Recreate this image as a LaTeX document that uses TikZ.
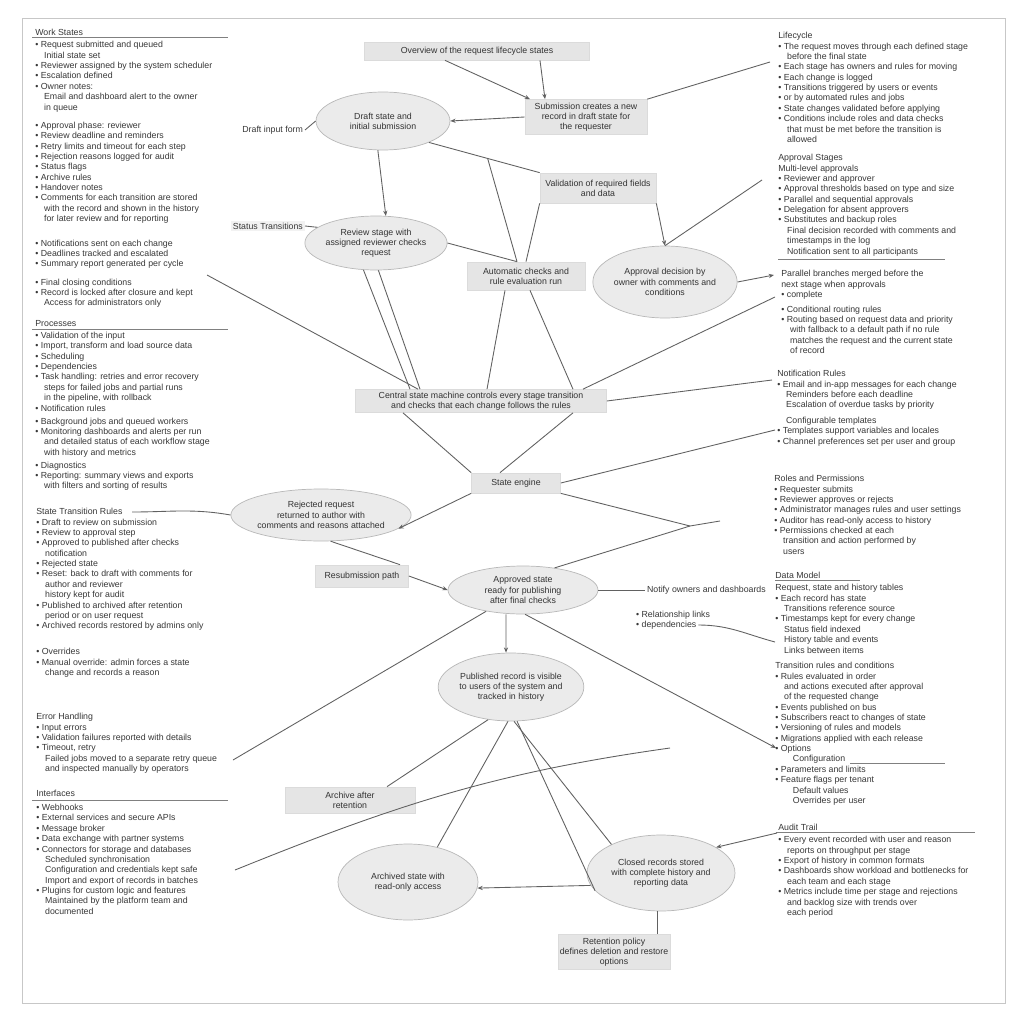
\documentclass[tikz,border=0pt]{standalone}
\usepackage{fontspec}
\setmainfont{Liberation Sans}
\usetikzlibrary{arrows.meta, shapes.geometric}
\newcommand{\listfont}{\fontsize{5}{5.9}\selectfont}
\newcommand{\bul}{\textbullet\ }
\newcommand{\cont}{\hspace*{5pt}}
\tikzset{%
	state bubble/.style={
		ellipse,
		draw=black!28,
		fill=black!8,
		inner sep=0pt,
		align=center,
		font=\fontsize{5}{5.8}\selectfont,
		text=black!80
	},
	state box/.style={
		rectangle,
		draw=black!14,
		fill=black!10,
		inner sep=1pt,
		align=center,
		font=\fontsize{5}{5.8}\selectfont,
		text=black!80
	},
	note block/.style={
		anchor=north west,
		inner sep=0pt,
		align=left,
		font=\listfont,
		text=black!78
	},
	side label/.style={inner sep=1pt, font=\listfont, text=black!78},
	link/.style={draw=black!62, line width=0.5pt},
	link arrow/.style={link, -{Stealth[length=3pt, width=2.4pt]}},
	heading rule/.style={draw=black!50, line width=0.4pt},
}

\begin{document}
\begin{tikzpicture}[x=0.02cm, y=-0.02cm]
	\useasboundingbox (0,0) rectangle (1024,1024);
	\fill[white] (0,0) rectangle (1024,1024);
	\draw[black!22, line width=0.4pt] (22,18) rectangle (1005,1003);

	% left notes
	\node[note block] (workstates) at (35,29) {Work States\\[1pt]
		\bul Request submitted and queued\\
		\cont Initial state set\\
		\bul Reviewer assigned by the system scheduler\\
		\bul Escalation defined\\
		\bul Owner notes:\\
		\cont Email and dashboard alert to the owner\\
		\cont in queue\\[4.5pt]
		\bul Approval phase: reviewer\\
		\bul Review deadline and reminders\\
		\bul Retry limits and timeout for each step\\
		\bul Rejection reasons logged for audit\\
		\bul Status flags\\
		\bul Archive rules\\
		\bul Handover notes\\
		\bul Comments for each transition are stored\\
		\cont with the record and shown in the history\\
		\cont for later review and for reporting\\[8pt]
		\bul Notifications sent on each change\\
		\bul Deadlines tracked and escalated\\
		\bul Summary report generated per cycle\\[4.5pt]
		\bul Final closing conditions\\
		\bul Record is locked after closure and kept\\
		\cont Access for administrators only};
	\draw[heading rule] (32,37) -- (228,37);

	\node[note block] (processes) at (35,320) {Processes\\[1pt]
		\bul Validation of the input\\
		\bul Import, transform and load source data\\
		\bul Scheduling\\
		\bul Dependencies\\
		\bul Task handling: retries and error recovery\\
		\cont steps for failed jobs and partial runs\\
		\cont in the pipeline, with rollback\\
		\bul Notification rules\\[1.5pt]
		\bul Background jobs and queued workers\\
		\bul Monitoring dashboards and alerts per run\\
		\cont and detailed status of each workflow stage\\
		\cont with history and metrics\\[1.5pt]
		\bul Diagnostics\\
		\bul Reporting: summary views and exports\\
		\cont with filters and sorting of results};
	\draw[heading rule] (32,329) -- (228,329);

	\node[note block] (rules) at (36,508) {State Transition Rules\\
		\bul Draft to review on submission\\
		\bul Review to approval step\\
		\bul Approved to published after checks\\
		\cont notification\\
		\bul Rejected state\\
		\bul Reset: back to draft with comments for\\
		\cont author and reviewer\\
		\cont history kept for audit\\
		\bul Published to archived after retention\\
		\cont period or on user request\\
		\bul Archived records restored by admins only\\[9pt]
		\bul Overrides\\
		\bul Manual override: admin forces a state\\
		\cont change and records a reason};

	\node[note block] (errors) at (36,713) {Error Handling\\
		\bul Input errors\\
		\bul Validation failures reported with details\\
		\bul Timeout, retry\\
		\cont Failed jobs moved to a separate retry queue\\
		\cont and inspected manually by operators};

	\node[note block] (interfaces) at (36,790) {Interfaces\\[2pt]
		\bul Webhooks\\
		\bul External services and secure APIs\\
		\bul Message broker\\
		\bul Data exchange with partner systems\\
		\bul Connectors for storage and databases\\
		\cont Scheduled synchronisation\\
		\cont Configuration and credentials kept safe\\
		\cont Import and export of records in batches\\
		\bul Plugins for custom logic and features\\
		\cont Maintained by the platform team and\\
		\cont documented};
	\draw[heading rule] (32,800) -- (228,800);

	% right notes
	\node[note block] (lifecycle) at (778,32) {Lifecycle\\
		\bul The request moves through each defined stage\\
		\cont before the final state\\
		\bul Each stage has owners and rules for moving\\
		\bul Each change is logged\\
		\bul Transitions triggered by users or events\\
		\bul or by automated rules and jobs\\
		\bul State changes validated before applying\\
		\bul Conditions include roles and data checks\\
		\cont that must be met before the transition is\\
		\cont allowed};

	\node[note block] (stages) at (778,154) {Approval Stages\\
		Multi-level approvals\\
		\bul Reviewer and approver\\
		\bul Approval thresholds based on type and size\\
		\bul Parallel and sequential approvals\\
		\bul Delegation for absent approvers\\
		\bul Substitutes and backup roles\\
		\cont Final decision recorded with comments and\\
		\cont timestamps in the log\\
		\cont Notification sent to all participants};
	\draw[heading rule] (778,259) -- (945,259);

	\node[note block] (branches) at (781,270) {Parallel branches merged before the\\
		next stage when approvals\\
		\bul complete\\[2.5pt]
		\bul Conditional routing rules\\
		\bul Routing based on request data and priority\\
		\cont with fallback to a default path if no rule\\
		\cont matches the request and the current state\\
		\cont of record};

	\node[note block] (notices) at (777,370) {Notification Rules\\
		\bul Email and in-app messages for each change\\
		\cont Reminders before each deadline\\
		\cont Escalation of overdue tasks by priority\\[3pt]
		\cont Configurable templates\\
		\bul Templates support variables and locales\\
		\bul Channel preferences set per user and group};

	\node[note block] (roles) at (774,475) {Roles and Permissions\\
		\bul Requester submits\\
		\bul Reviewer approves or rejects\\
		\bul Administrator manages rules and user settings\\
		\bul Auditor has read-only access to history\\
		\bul Permissions checked at each\\
		\cont transition and action performed by\\
		\cont users};

	\node[note block] (datamodel) at (775,572) {Data Model\\[1pt]
		Request, state and history tables\\
		\bul Each record has state\\
		\cont Transitions reference source\\
		\bul Timestamps kept for every change\\
		\cont Status field indexed\\
		\cont History table and events\\
		\cont Links between items\\[3pt]
		Transition rules and conditions\\
		\bul Rules evaluated in order\\
		\cont and actions executed after approval\\
		\cont of the requested change\\
		\bul Events published on bus\\
		\bul Subscribers react to changes of state\\
		\bul Versioning of rules and models\\
		\bul Migrations applied with each release\\
		\bul Options\\
		\cont\cont Configuration\\
		\bul Parameters and limits\\
		\bul Feature flags per tenant\\
		\cont\cont Default values\\
		\cont\cont Overrides per user};
	\draw[heading rule] (775,580) -- (860,580);
	\draw[heading rule] (850,763) -- (945,763);

	\node[note block] (audit) at (778,824) {Audit Trail\\[1pt]
		\bul Every event recorded with user and reason\\
		\cont reports on throughput per stage\\
		\bul Export of history in common formats\\
		\bul Dashboards show workload and bottlenecks for\\
		\cont each team and each stage\\
		\bul Metrics include time per stage and rejections\\
		\cont and backlog size with trends over\\
		\cont each period};
	\draw[heading rule] (776,832) -- (975,832);

	% centre boxes
	\node[state box, minimum width=4.5cm, minimum height=0.36cm] (overview) at (477,51) {Overview of the request lifecycle states};
	\node[state box, minimum width=2.44cm, minimum height=0.7cm] (submit) at (586,117) {Submission creates a new\\ record in draft state for\\ the requester};
	\node[state box, minimum width=2.32cm, minimum height=0.6cm] (validate) at (598,188) {Validation of required fields\\ and data};
	\node[state box, minimum width=2.36cm, minimum height=0.56cm] (checks) at (526,276) {Automatic checks and\\ rule evaluation run};
	\node[state box, minimum width=5.02cm, minimum height=0.46cm] (machine) at (481,401) {Central state machine controls every stage transition\\ and checks that each change follows the rules};
	\node[state box, minimum width=1.78cm, minimum height=0.4cm] (engine) at (516,483) {State engine};
	\node[state box, minimum width=1.86cm, minimum height=0.44cm] (resubmit) at (362,576) {Resubmission path};
	\node[state box, minimum width=2.6cm, minimum height=0.52cm] (archivebox) at (350,800) {Archive after\\ retention};
	\node[state box, minimum width=2.14cm, minimum height=0.7cm] (retention) at (614,952) {Retention policy\\ defines deletion and restore\\ options};

	% centre bubbles
	\node[state bubble, minimum width=2.68cm, minimum height=1.16cm] (draft) at (383,121) {Draft state and\\ initial submission};
	\node[state bubble, minimum width=2.48cm, minimum height=1.08cm] (review) at (376,243) {Review stage with\\ assigned reviewer checks\\ request};
	\node[state bubble, minimum width=2.8cm, minimum height=1.44cm] (decision) at (665,282) {Approval decision by\\ owner with comments and\\ conditions};
	\node[state bubble, minimum width=2.68cm, minimum height=1.04cm] (rejected) at (321,515) {Rejected request\\ returned to author with\\ comments and reasons attached};
	\node[state bubble, minimum width=3.0cm, minimum height=0.96cm] (approved) at (523,590) {Approved state\\ ready for publishing\\ after final checks};
	\node[state bubble, minimum width=2.72cm, minimum height=1.36cm] (published) at (511,687) {Published record is visible\\ to users of the system and\\ tracked in history};
	\node[state bubble, minimum width=2.8cm, minimum height=1.52cm] (archived) at (408,882) {Archived state with\\ read-only access};
	\node[state bubble, minimum width=2.96cm, minimum height=1.52cm] (closed) at (661,873) {Closed records stored\\ with complete history and\\ reporting data};

	% side labels
	\node[side label, anchor=east] (draftlbl) at (305,130) {Draft input form};
	\node[side label, anchor=east, fill=black!5] (statuslbl) at (305,226) {Status Transitions};
	\node[side label, anchor=west] (notifylbl) at (645,590) {Notify owners and dashboards};
	\node[side label, anchor=west] (rellbl) at (634,615) {\bul Relationship links};
	\node[side label, anchor=west] (deplbl) at (634,625) {\bul dependencies};

	% free ends
	\coordinate (r1a) at (770,62);
	\coordinate (r2a) at (762,180);
	\coordinate (r3a) at (774,275);
	\coordinate (r3b) at (775,297);
	\coordinate (l1a) at (207,275);
	\coordinate (r4a) at (772,380);
	\coordinate (r4b) at (775,430);
	\coordinate (j2) at (690,526);
	\coordinate (j2end) at (720,521);
	\coordinate (l3a) at (132,512);
	\coordinate (r7a) at (776,748);
	\coordinate (l4a) at (233,760);
	\coordinate (r7b) at (775,642);
	\coordinate (l5a) at (235,870);
	\coordinate (curveend) at (670,748);
	\coordinate (r8a) at (777,833);

	% connectors
	\draw[link arrow] ([xshift=-0.64cm]overview.south) -- ([xshift=-1.12cm]submit.north);
	\draw[link arrow] ([xshift=1.26cm]overview.south) -- ([xshift=-0.82cm]submit.north);
	\draw[link] (submit.north east) -- (r1a);
	\draw[link arrow] (submit.west) -- (draft.east);
	\draw[link] (draft.-25) -- coordinate[pos=0.53] (j1) (validate.north west);
	\draw[link] (j1) -- ([xshift=-0.18cm]checks.north);
	\draw[link] (validate.south west) -- (checks.north);
	\draw[link arrow] (draft.260) -- (review.70);
	\draw[link arrow] (validate.south east) -- (decision.north);
	\draw[link] (decision.north) -- (r2a);
	\draw[link arrow] (decision.east) -- (r3a);
	\draw[link] (r3b) -- ([xshift=2.04cm]machine.north);
	\draw[link] (review.east) -- ([xshift=-0.18cm]checks.north);
	\draw[link] (statuslbl.east) -- (review.165);
	\draw[link] (draftlbl.east) -- (draft.west);
	\draw[link] (review.-115) -- ([xshift=-1.42cm]machine.north);
	\draw[link] (review.-85) -- ([xshift=-1.22cm]machine.north);
	\draw[link] (l1a) -- ([xshift=-1.26cm]machine.north);
	\draw[link] ([xshift=-0.42cm]checks.south) -- ([xshift=0.12cm]machine.north);
	\draw[link] ([xshift=0.08cm]checks.south) -- ([xshift=1.84cm]machine.north);
	\draw[link] (machine.east) -- (r4a);
	\draw[link] ([xshift=-1.56cm]machine.south) -- (engine.north west);
	\draw[link] ([xshift=1.84cm]machine.south) -- ([xshift=-0.32cm]engine.north);
	\draw[link arrow] (engine.south west) -- (rejected.-10);
	\draw[link] (engine.east) -- (r4b);
	\draw[link] (engine.south east) -- (j2) -- (j2end);
	\draw[link] (j2) -- (approved.35);
	\draw[link] (l3a) to[out=0, in=170] (rejected.west);
	\draw[link] (rejected.-70) -- ([xshift=0.76cm]resubmit.north);
	\draw[link arrow] (resubmit.east) -- (approved.west);
	\draw[link] (approved.east) -- (notifylbl.west);
	\draw[link arrow] ([xshift=-0.34cm]approved.south) -- ([xshift=-0.1cm]published.north);
	\draw[link arrow] (approved.-85) -- (r7a);
	\draw[link] (approved.-150) -- (l4a);
	\draw[link] (deplbl.east) to[out=0, in=165] (r7b);
	\draw[link] (published.-125) -- ([xshift=0.74cm]archivebox.north);
	\draw[link] (published.-95) -- (archived.50);
	\draw[link] (published.-85) -- (closed.150);
	\draw[link] (published.-80) -- (closed.195);
	\draw[link] (l5a) to[out=22, in=188] (curveend);
	\draw[link arrow] (closed.190) -- (archived.-5);
	\draw[link arrow] (r8a) -- (closed.25);
	\draw[link] (closed.-95) -- (closed.-95 |- retention.north);
\end{tikzpicture}
\end{document}
